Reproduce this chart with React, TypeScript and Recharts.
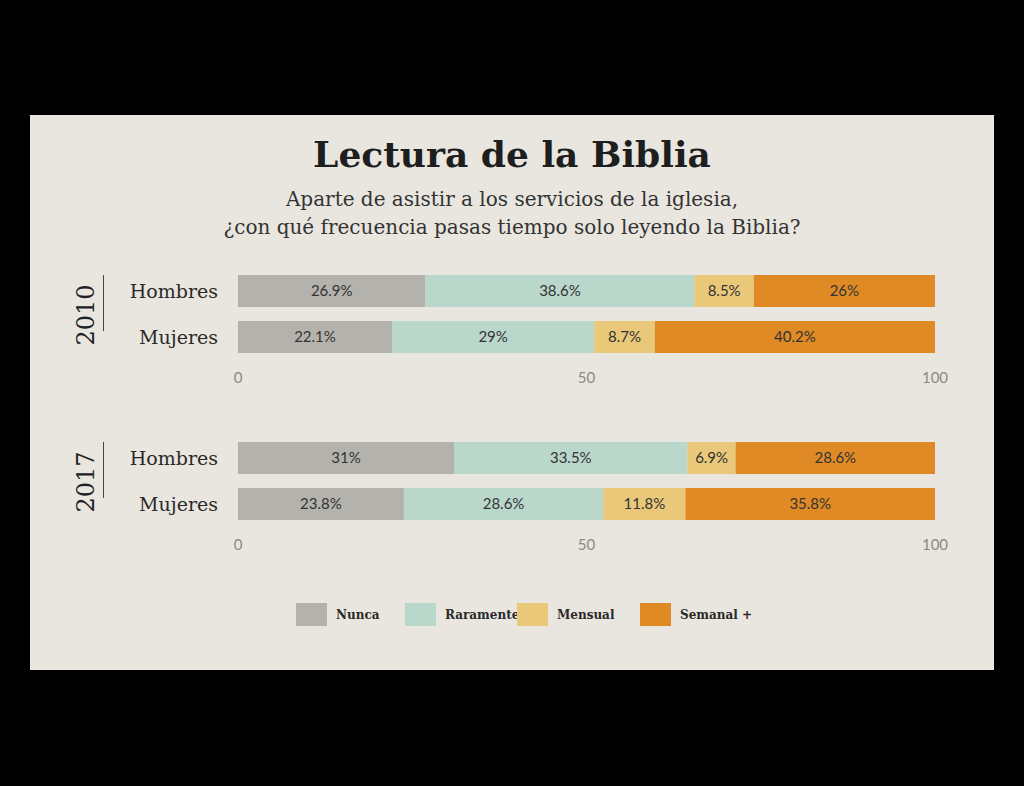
import React from "react";
import { BarChart, Bar, XAxis, YAxis, LabelList } from "recharts";

const groups = ["Hombres", "Mujeres"];
const years = ["2010", "2017"];
const seriesNames = ["Nunca", "Raramente", "Mensual", "Semanal +"];
const keys = ["nunca", "raramente", "mensual", "semanal"];
const colors = ["#b4b2ac", "#bad7cc", "#e9c979", "#df8a25"];
const nunca2010 = [26.9, 22.1];
const raramente2010 = [38.6, 29];
const mensual2010 = [8.5, 8.7];
const semanal2010 = [26, 40.2];
const nunca2017 = [31, 23.8];
const raramente2017 = [33.5, 28.6];
const mensual2017 = [6.9, 11.8];
const semanal2017 = [28.6, 35.8];
const ticks = [0, 50, 100];

const build = (a: number[], b: number[], c: number[], d: number[]) =>
  groups.map((g, i) => ({ g, nunca: a[i], raramente: b[i], mensual: c[i], semanal: d[i] }));
const data2010 = build(nunca2010, raramente2010, mensual2010, semanal2010);
const data2017 = build(nunca2017, raramente2017, mensual2017, semanal2017);

const serif = "'DejaVu Serif', 'Liberation Serif', serif";
const sans = "Lato, 'Open Sans', sans-serif";

function Chart({ data, top, year }: { data: any[]; top: number; year: string }) {
  return (
    <>
      <div style={{ position: "absolute", left: 0, top, }}>
        <BarChart width={964} height={122} data={data} layout="vertical"
          margin={{ top: 0, right: 59, left: 8, bottom: 0 }} barCategoryGap={7}>
          <XAxis type="number" domain={[0, 100]} ticks={ticks} axisLine={false} tickLine={false}
            tick={{ fill: "#8a8a86", fontSize: 15, fontFamily: sans }} height={30} tickMargin={6} />
          <YAxis type="category" dataKey="g" width={200} axisLine={false} tickLine={false} tickMargin={14}
            tick={{ fill: "#2a2a2a", fontSize: 19, fontFamily: serif }} />
          {keys.map((k, i) => (
            <Bar key={k} dataKey={k} stackId="a" fill={colors[i]} isAnimationActive={false} name={seriesNames[i]}>
              <LabelList dataKey={k} position="center" formatter={(v: any) => v + "%"}
                style={{ fill: "#333", fontSize: 15, fontFamily: sans }} />
            </Bar>
          ))}
        </BarChart>
      </div>
      <div style={{ position: "absolute", left: 38, top: top + 12, width: 36, height: 70, display: "flex", alignItems: "center", justifyContent: "center" }}>
        <div style={{ transform: "rotate(-90deg)", fontFamily: serif, fontSize: 24, color: "#222" }}>{year}</div>
      </div>
      <div style={{ position: "absolute", left: 73, top: top + 7, width: 1, height: 56, background: "#444" }} />
    </>
  );
}

export default function App() {
  return (
    <div style={{ position: "absolute", left: 0, top: 0, width: 1024, height: 786, background: "#000" }}>
      <div style={{ position: "absolute", left: 30, top: 115, width: 964, height: 555, background: "#e9e6df" }}>
        <div style={{ position: "absolute", top: 18, width: "100%", textAlign: "center", fontFamily: serif, fontWeight: "bold", fontSize: 36, color: "#1e1e1e" }}>
          Lectura de la Biblia
        </div>
        <div style={{ position: "absolute", top: 70, width: "100%", textAlign: "center", fontFamily: serif, fontSize: 20, lineHeight: "28px", color: "#333" }}>
          Aparte de asistir a los servicios de la iglesia,<br />¿con qué frecuencia pasas tiempo solo leyendo la Biblia?
        </div>
        <Chart data={data2010} top={153} year={years[0]} />
        <Chart data={data2017} top={320} year={years[1]} />
        <div style={{ position: "absolute", top: 488, left: 0, width: "100%" }}>
          {seriesNames.map((n, i) => (
            <div key={n} style={{ position: "absolute", left: [266, 375, 487, 610][i], display: "flex", alignItems: "center" }}>
              <div style={{ width: 31, height: 23, background: colors[i] }} />
              <span style={{ marginLeft: 9, fontFamily: serif, fontWeight: "bold", fontSize: 12, color: "#2a2a2a" }}>{n}</span>
            </div>
          ))}
        </div>
      </div>
    </div>
  );
}
